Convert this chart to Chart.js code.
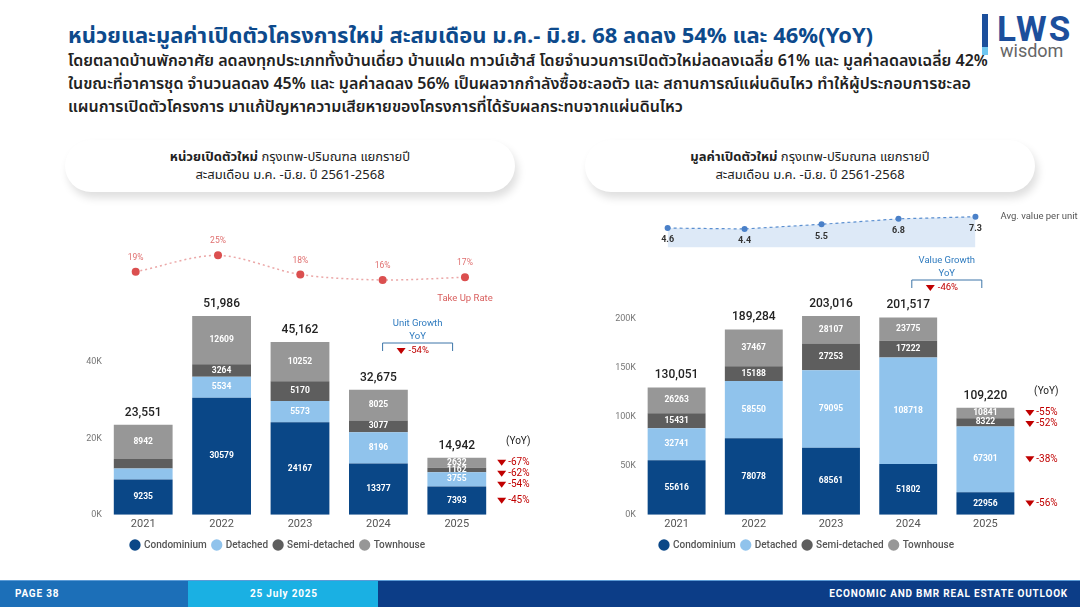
<!DOCTYPE html>
<html lang="th">
<head>
<meta charset="utf-8">
<script src="https://cdn.jsdelivr.net/npm/chart.js@4.4.1/dist/chart.umd.min.js"></script>
<style>
  html, body { margin: 0; padding: 0; }
  body { width: 1080px; height: 607px; position: relative; overflow: hidden; background: #fff;
         font-family: "Noto Sans Thai", "Noto Sans", "DejaVu Sans", sans-serif; }
  .title { position: absolute; left: 68px; top: 21px; font-size: 22px; font-weight: 700; color: #0d4a8c; white-space: nowrap; line-height: 32px; }
  .desc { position: absolute; left: 68px; top: 50px; font-size: 16px; line-height: 23px; color: #222; font-weight: 600; white-space: nowrap; }
  .logo-bar { position: absolute; left: 982px; top: 14px; width: 6px; height: 41px; background: linear-gradient(#1c4f9c 0 80%, #6ec6f0 80% 100%); }
  .logo-lws { position: absolute; left: 997px; top: 12px; font: 700 35px/1 "Roboto", sans-serif; color: #1c4f9c; letter-spacing: 2px; }
  .logo-wis { position: absolute; left: 1000px; top: 42px; font: 400 18px/1 "Roboto", sans-serif; color: #666; }
  .card { position: absolute; top: 140px; height: 52px; width: 450px; border-radius: 28px; background: #fff;
          box-shadow: 3px 6px 9px rgba(0,0,0,0.13); text-align: center; font-size: 13px; line-height: 18px; color: #222; padding-top: 8px; box-sizing: border-box; }
  .card b { font-weight: 700; }
  canvas { position: absolute; }
  .footer { position: absolute; left: 0; top: 580px; width: 1080px; height: 27px; background: #0c3d87; border-top: 1px solid #5c9bd6; box-sizing: border-box; }
  .footer div { position: absolute; top: 0; height: 26px; color: #fff; font: 700 10px/26px "Liberation Sans Narrow", "Roboto", sans-serif; letter-spacing: 0.8px; }
</style>
</head>
<body>
<div class="title">หน่วยและมูลค่าเปิดตัวโครงการใหม่ สะสมเดือน ม.ค.- มิ.ย. 68 ลดลง 54% และ 46%(YoY)</div>
<div class="desc">โดยตลาดบ้านพักอาศัย ลดลงทุกประเภททั้งบ้านเดี่ยว บ้านแฝด ทาวน์เฮ้าส์ โดยจำนวนการเปิดตัวใหม่ลดลงเฉลี่ย 61% และ มูลค่าลดลงเฉลี่ย 42%<br>ในขณะที่อาคารชุด จำนวนลดลง 45% และ มูลค่าลดลง 56% เป็นผลจากกำลังซื้อชะลอตัว และ สถานการณ์แผ่นดินไหว ทำให้ผู้ประกอบการชะลอ<br>แผนการเปิดตัวโครงการ มาแก้ปัญหาความเสียหายของโครงการที่ได้รับผลกระทบจากแผ่นดินไหว</div>
<div class="logo-bar"></div>
<div class="logo-lws">LWS</div>
<div class="logo-wis">wisdom</div>

<div class="card" style="left:65px"><b>หน่วยเปิดตัวใหม่</b> กรุงเทพ-ปริมณฑล แยกรายปี<br>สะสมเดือน ม.ค. -มิ.ย. ปี 2561-2568</div>
<div class="card" style="left:585px"><b>มูลค่าเปิดตัวใหม่</b> กรุงเทพ-ปริมณฑล แยกรายปี<br>สะสมเดือน ม.ค. -มิ.ย. ปี 2561-2568</div>

<canvas id="unit_chart" style="left:60px; top:215px; width:480px; height:345px"></canvas>
<canvas id="value_chart" style="left:590px; top:195px; width:490px; height:365px"></canvas>

<div class="footer">
  <div style="left:0; width:188px; background:#1c6fb8; padding-left:15px; box-sizing:border-box">PAGE 38</div>
  <div style="left:188px; width:190px; background:#1ab0e3; padding-left:62px; box-sizing:border-box">25 July 2025</div>
  <div style="right:12px">ECONOMIC AND BMR REAL ESTATE OUTLOOK</div>
</div>

<script>
const years = ["2021", "2022", "2023", "2024", "2025"];
const seriesNames = ["Condominium", "Detached", "Semi-detached", "Townhouse"];
const seriesColors = ["#0a4787", "#90c3ec", "#5e5e5e", "#979797"];

// unit chart
const unitCondo = [9235, 30579, 24167, 13377, 7393];
const unitDetached = [2850, 5534, 5573, 8196, 3755];
const unitSemi = [2524, 3264, 5170, 3077, 1162];
const unitTown = [8942, 12609, 10252, 8025, 2632];
const unitTotals = [23551, 51986, 45162, 32675, 14942];
const unitYoY = ["-45%", "-54%", "-62%", "-67%"];
const takeUpRate = [19, 25, 18, 16, 17];
const unitTicks = [0, 20000, 40000];

// value chart (million baht)
const valueCondo = [55616, 78078, 68561, 51802, 22956];
const valueDetached = [32741, 58550, 79095, 108718, 67301];
const valueSemi = [15431, 15188, 27253, 17222, 8322];
const valueTown = [26263, 37467, 28107, 23775, 10841];
const valueTotals = [130051, 189284, 203016, 201517, 109220];
const valueYoY = ["-56%", "-38%", "-52%", "-55%"];
const avgValuePerUnit = [4.6, 4.4, 5.5, 6.8, 7.3];
const valueTicks = [0, 50000, 100000, 150000, 200000];

document.addEventListener("DOMContentLoaded", function () {
    const slideLabels = {
        id: 'slideLabels',
        afterDatasetsDraw(chart, args, opts) {
            const ctx = chart.ctx;
            const ds = chart.data.datasets;
            ctx.save();
            ctx.textAlign = 'center';
            ctx.textBaseline = 'middle';

            // values inside the stacked segments
            ctx.font = 'bold 8.5px Roboto';
            ctx.fillStyle = '#fff';
            for (let d = 0; d < 4; d++) {
                chart.getDatasetMeta(d).data.forEach((bar, i) => {
                    if (opts.skip.some(s => s[0] === d && s[1] === i)) return;
                    ctx.fillText(String(ds[d].data[i]), bar.x, (bar.y + bar.base) / 2);
                });
            }

            // totals above bars
            ctx.font = '500 12px Roboto';
            ctx.fillStyle = '#222';
            const topMeta = chart.getDatasetMeta(3);
            topMeta.data.forEach((bar, i) => {
                ctx.fillText(opts.totals[i].toLocaleString('en-US'), bar.x, bar.y - 12);
            });

            // line point labels
            const lineMeta = chart.getDatasetMeta(4);
            ctx.font = opts.lineFont;
            ctx.fillStyle = opts.lineLabelColor;
            lineMeta.data.forEach((pt, i) => {
                ctx.fillText(opts.lineLabels[i], pt.x, pt.y + opts.lineLabelDy);
            });
            const last = lineMeta.data[lineMeta.data.length - 1];
            ctx.font = '9.5px Roboto';
            ctx.fillStyle = opts.noteColor;
            ctx.textAlign = opts.noteAlign;
            ctx.fillText(opts.note, last.x + opts.noteDx, last.y + opts.noteDy);

            // YoY column next to the last bar
            const lastBar = chart.getDatasetMeta(0).data[4];
            const ax = lastBar.x + lastBar.width / 2 + 11;
            ctx.textAlign = 'center';
            ctx.font = '10px Roboto';
            ctx.fillStyle = '#222';
            ctx.fillText('(YoY)', ax + 21, topMeta.data[4].y - 16);
            let prevY = -Infinity;
            ctx.textAlign = 'left';
            for (let d = 3; d >= 0; d--) {
                const bar = chart.getDatasetMeta(d).data[4];
                let y = (bar.y + bar.base) / 2;
                y = Math.max(y, prevY + 11);
                prevY = y;
                drawDown(ctx, ax, y);
                ctx.fillStyle = '#c00000';
                ctx.fillText(opts.yoy[d], ax + 11, y);
            }

            // growth box between the last two bars
            const xs = chart.scales.x;
            const mid = (xs.getPixelForValue(3) + xs.getPixelForValue(4)) / 2;
            const y0 = chart.chartArea.top + opts.growthTop;
            ctx.textAlign = 'center';
            ctx.fillStyle = '#2f7bbf';
            ctx.font = '9.5px Roboto';
            ctx.fillText(opts.growthTitle, mid, y0);
            ctx.fillText('YoY', mid, y0 + 13);
            ctx.strokeStyle = '#3d75a8';
            ctx.lineWidth = 1;
            ctx.beginPath();
            ctx.moveTo(mid - 35, y0 + 27);
            ctx.lineTo(mid - 35, y0 + 19);
            ctx.lineTo(mid + 35, y0 + 19);
            ctx.lineTo(mid + 35, y0 + 27);
            ctx.stroke();
            drawDown(ctx, mid - 21, y0 + 27);
            ctx.textAlign = 'left';
            ctx.fillStyle = '#c00000';
            ctx.fillText(opts.growthValue, mid - 9, y0 + 27);
            ctx.restore();
        }
    };

    function drawDown(ctx, x, y) {
        ctx.fillStyle = '#c00000';
        ctx.beginPath();
        ctx.moveTo(x, y - 3);
        ctx.lineTo(x + 9, y - 3);
        ctx.lineTo(x + 4.5, y + 3);
        ctx.closePath();
        ctx.fill();
    }

    function barSets(values) {
        return values.map((data, k) => ({
            label: seriesNames[k],
            data: data,
            backgroundColor: seriesColors[k],
            borderWidth: 0,
            grouped: false,
            barPercentage: 0.75,
            categoryPercentage: 1,
            order: 2
        }));
    }

    function makeOptions(cfg) {
        return {
            responsive: false,
            animation: false,
            layout: { padding: cfg.padding },
            plugins: {
                tooltip: { enabled: false },
                legend: {
                    position: 'bottom',
                    labels: {
                        usePointStyle: true,
                        pointStyle: 'circle',
                        boxWidth: 8,
                        boxHeight: 8,
                        padding: 6,
                        color: '#555',
                        font: { family: 'Roboto', size: 10, weight: '500' },
                        filter: item => item.datasetIndex < 4
                    }
                },
                slideLabels: cfg.labels
            },
            scales: {
                x: {
                    stacked: true,
                    grid: { display: false, drawTicks: false },
                    border: { display: false },
                    ticks: { color: '#555', padding: 3, font: { family: 'Roboto', size: 11 } }
                },
                y: {
                    stacked: true,
                    min: 0,
                    max: cfg.yMax,
                    afterFit: s => { s.width = cfg.yWidth; },
                    afterBuildTicks: s => { s.ticks = cfg.ticks.map(v => ({ value: v })); },
                    grid: { display: false, drawTicks: false },
                    border: { display: false },
                    ticks: {
                        color: '#777', padding: 2, font: { family: 'Roboto', size: 9 },
                        callback: v => (v / 1000) + 'K'
                    }
                },
                x2: {
                    type: 'linear', display: false, offset: false,
                    grid: { offset: false },
                    min: cfg.x2[0], max: cfg.x2[1]
                },
                y2: { type: 'linear', display: false, offset: false, min: cfg.y2[0], max: cfg.y2[1] }
            }
        };
    }

    const unitCtx = document.getElementById("unit_chart");
    unitCtx.width = 480; unitCtx.height = 345;
    const unitChart = new Chart(unitCtx, {
        type: 'bar',
        data: {
            labels: years,
            datasets: barSets([unitCondo, unitDetached, unitSemi, unitTown]).concat([{
                type: 'line',
                label: 'Take Up Rate',
                data: takeUpRate.map((v, i) => ({ x: i, y: v })),
                xAxisID: 'x2',
                yAxisID: 'y2',
                borderColor: 'rgba(226,130,130,0.7)',
                borderDash: [2, 3],
                borderWidth: 1.5,
                tension: 0.3,
                pointRadius: 4,
                pointBackgroundColor: '#db4f4f',
                pointBorderWidth: 0,
                order: 1
            }])
        },
        options: makeOptions({
            padding: { top: 15, right: 44, left: 0, bottom: 0 },
            yMax: 74437,
            yWidth: 44,
            ticks: unitTicks,
            x2: [-0.385, 4.377],
            y2: [-69.8, 34.26],
            labels: {
                skip: [[1, 0], [2, 0]],
                totals: unitTotals,
                yoy: unitYoY,
                lineLabels: takeUpRate.map(v => v + '%'),
                lineFont: '8.5px Roboto',
                lineLabelColor: '#e07070',
                lineLabelDy: -14,
                note: 'Take Up Rate',
                noteColor: '#d9605f',
                noteAlign: 'center',
                noteDx: 0,
                noteDy: 21,
                growthTitle: 'Unit Growth',
                growthValue: '-54%',
                growthTop: 94
            }
        }),
        plugins: [slideLabels]
    });

    const valueCtx = document.getElementById("value_chart");
    valueCtx.width = 490; valueCtx.height = 365;
    const valueChart = new Chart(valueCtx, {
        type: 'bar',
        data: {
            labels: years,
            datasets: barSets([valueCondo, valueDetached, valueSemi, valueTown]).concat([{
                type: 'line',
                label: 'Avg. value per unit',
                data: avgValuePerUnit.map((v, i) => ({ x: i, y: v })),
                xAxisID: 'x2',
                yAxisID: 'y2',
                borderColor: '#5b8fd0',
                borderDash: [3, 3],
                borderWidth: 1.2,
                tension: 0,
                fill: 'origin',
                backgroundColor: '#dde9f7',
                pointRadius: 3,
                pointBackgroundColor: '#4a80c8',
                pointBorderWidth: 0,
                order: 1
            }])
        },
        options: makeOptions({
            padding: { top: 10, right: 56, left: 0, bottom: 0 },
            yMax: 316390,
            yWidth: 48,
            ticks: valueTicks,
            x2: [-0.385, 4.631],
            y2: [-63.75, 10.1],
            labels: {
                skip: [],
                totals: valueTotals,
                yoy: valueYoY,
                lineLabels: avgValuePerUnit.map(v => v.toFixed(1)),
                lineFont: 'bold 9px Roboto',
                lineLabelColor: '#333',
                lineLabelDy: 12,
                note: 'Avg. value per unit',
                noteColor: '#555',
                noteAlign: 'left',
                noteDx: 25,
                noteDy: 0,
                growthTitle: 'Value Growth',
                growthValue: '-46%',
                growthTop: 56
            }
        }),
        plugins: [slideLabels]
    });
});
</script>
</body>
</html>
